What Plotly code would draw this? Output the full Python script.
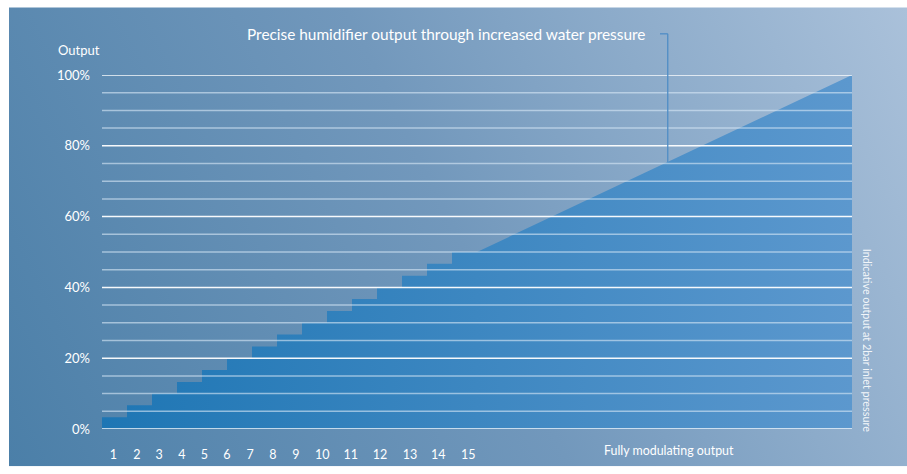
import base64
import plotly.graph_objects as go

# ---- data ----
step_output = [3.3, 6.7, 10, 13.3, 16.7, 20, 23.3, 26.7, 30, 33.3, 36.7, 40, 43.3, 46.7, 50]
modulating_x = [15, 30]
modulating_y = [50, 100]
step_labels = [str(i) for i in range(1, 16)]
step_label_pos = [0.45, 1.39, 2.28, 3.19, 4.09, 4.99, 5.92, 6.83, 7.75, 8.81, 9.95, 11.12, 12.32, 13.45, 14.65]
y_ticks = [0, 20, 40, 60, 80, 100]
y_ticktext = ["0%", "20%", "40%", "60%", "80%", "100%"]
grid_values = list(range(0, 101, 5))
leader_x = 22.63

FONT = "Lato"

# build staircase + modulating line
xs, ys = [], []
for i, h in enumerate(step_output):
    xs += [i, i + 1]
    ys += [h, h]
xs += [modulating_x[1]]
ys += [modulating_y[1]]

fig = go.Figure()
fig.add_trace(go.Scatter(
    x=xs, y=ys, mode="lines", line=dict(width=0), fill="tozeroy",
    fillgradient=dict(type="horizontal", colorscale=[[0, "#1e76b4"], [1, "#5c98ce"]]),
    hoverinfo="skip", showlegend=False,
))

# background gradient as svg image
svg = (
    '<svg xmlns="http://www.w3.org/2000/svg" width="898" height="468" viewBox="0 0 898 468" preserveAspectRatio="none">'
    '<defs><linearGradient id="g" x1="0" y1="1" x2="1.176" y2="0.706">'
    '<stop offset="0" stop-color="#4b7fa8"/><stop offset="0.5" stop-color="#7298bc"/>'
    '<stop offset="1" stop-color="#aac1da"/></linearGradient></defs>'
    '<rect width="898" height="468" fill="url(#g)"/></svg>'
)
uri = "data:image/svg+xml;base64," + base64.b64encode(svg.encode()).decode()

L, R, T, B = 102, 55, 75, 38
W, H = 907, 474
pw, ph = W - L - R, H - T - B


def px2paper(px, py):
    return (px - L) / pw, (H - B - py) / ph


x0, ytop = px2paper(9, 6)
fig.add_layout_image(dict(
    source=uri, xref="paper", yref="paper", x=x0, y=ytop,
    sizex=(W - 9) / pw, sizey=(H - 6) / ph, sizing="stretch",
    xanchor="left", yanchor="top", layer="below",
))

shapes = []
for g in grid_values:
    major = g % 20 == 0
    shapes.append(dict(
        type="line", xref="x", yref="y", x0=0, x1=30, y0=g, y1=g, layer="above",
        line=dict(color="rgba(255,255,255,0.95)" if major else "rgba(215,230,245,0.62)", width=1.5),
    ))

# leader line from title to the modulating line
leader_y = modulating_y[0] + (leader_x - modulating_x[0]) * (modulating_y[1] - modulating_y[0]) / (modulating_x[1] - modulating_x[0])
lx = leader_x / 30
_, ly_top = px2paper(0, 33)
lx_start, _ = px2paper(660, 0)
shapes.append(dict(type="line", xref="paper", yref="paper", x0=lx_start, x1=lx, y0=ly_top, y1=ly_top,
                   line=dict(color="#4f8dc6", width=1.3)))
shapes.append(dict(type="line", xref="paper", yref="paper", x0=lx, x1=lx, y0=ly_top, y1=leader_y / 100,
                   line=dict(color="#4f8dc6", width=1.3)))

ann = []
tx, ty = px2paper(245, 33)
ann.append(dict(text="Precise humidifier output through increased water pressure", xref="paper", yref="paper",
                x=tx, y=ty, xanchor="left", yanchor="middle", showarrow=False,
                font=dict(family=FONT, size=15.4, color="white")))
ox, oy = px2paper(79, 49)
ann.append(dict(text="Output", xref="paper", yref="paper", x=ox, y=oy, xanchor="center", yanchor="middle",
                showarrow=False, font=dict(family=FONT, size=13, color="white")))
fx, fy = px2paper(669, 458)
ann.append(dict(text="Fully modulating output", xref="paper", yref="paper", x=fx, y=fy, xanchor="center",
                yanchor="middle", showarrow=False, font=dict(family=FONT, size=12.4, color="white")))
rx, ry = px2paper(867, 345)
ann.append(dict(text="Indicative output at 2bar inlet pressure", xref="paper", yref="paper", x=rx, y=ry,
                xanchor="center", yanchor="middle", textangle=90, showarrow=False,
                font=dict(family=FONT, size=10.8, color="rgba(255,255,255,0.9)")))

fig.update_layout(
    width=W, height=H, margin=dict(l=L, r=R, t=T, b=B),
    paper_bgcolor="white", plot_bgcolor="rgba(0,0,0,0)",
    shapes=shapes, annotations=ann, showlegend=False,
    xaxis=dict(range=[0, 30], showgrid=False, zeroline=False, showline=False,
               tickvals=step_label_pos, ticktext=step_labels, ticks="",
               ticklabelstandoff=16, tickfont=dict(family=FONT, size=12.5, color="white"), fixedrange=True),
    yaxis=dict(range=[0, 100], showgrid=False, zeroline=False, showline=False,
               tickvals=y_ticks, ticktext=y_ticktext, ticks="",
               ticklabelstandoff=11, tickfont=dict(family=FONT, size=13, color="white"), fixedrange=True),
)

fig.write_html("out.html", config={"displayModeBar": False},
               post_script="document.body.style.margin='0';document.body.style.overflow='hidden';")
